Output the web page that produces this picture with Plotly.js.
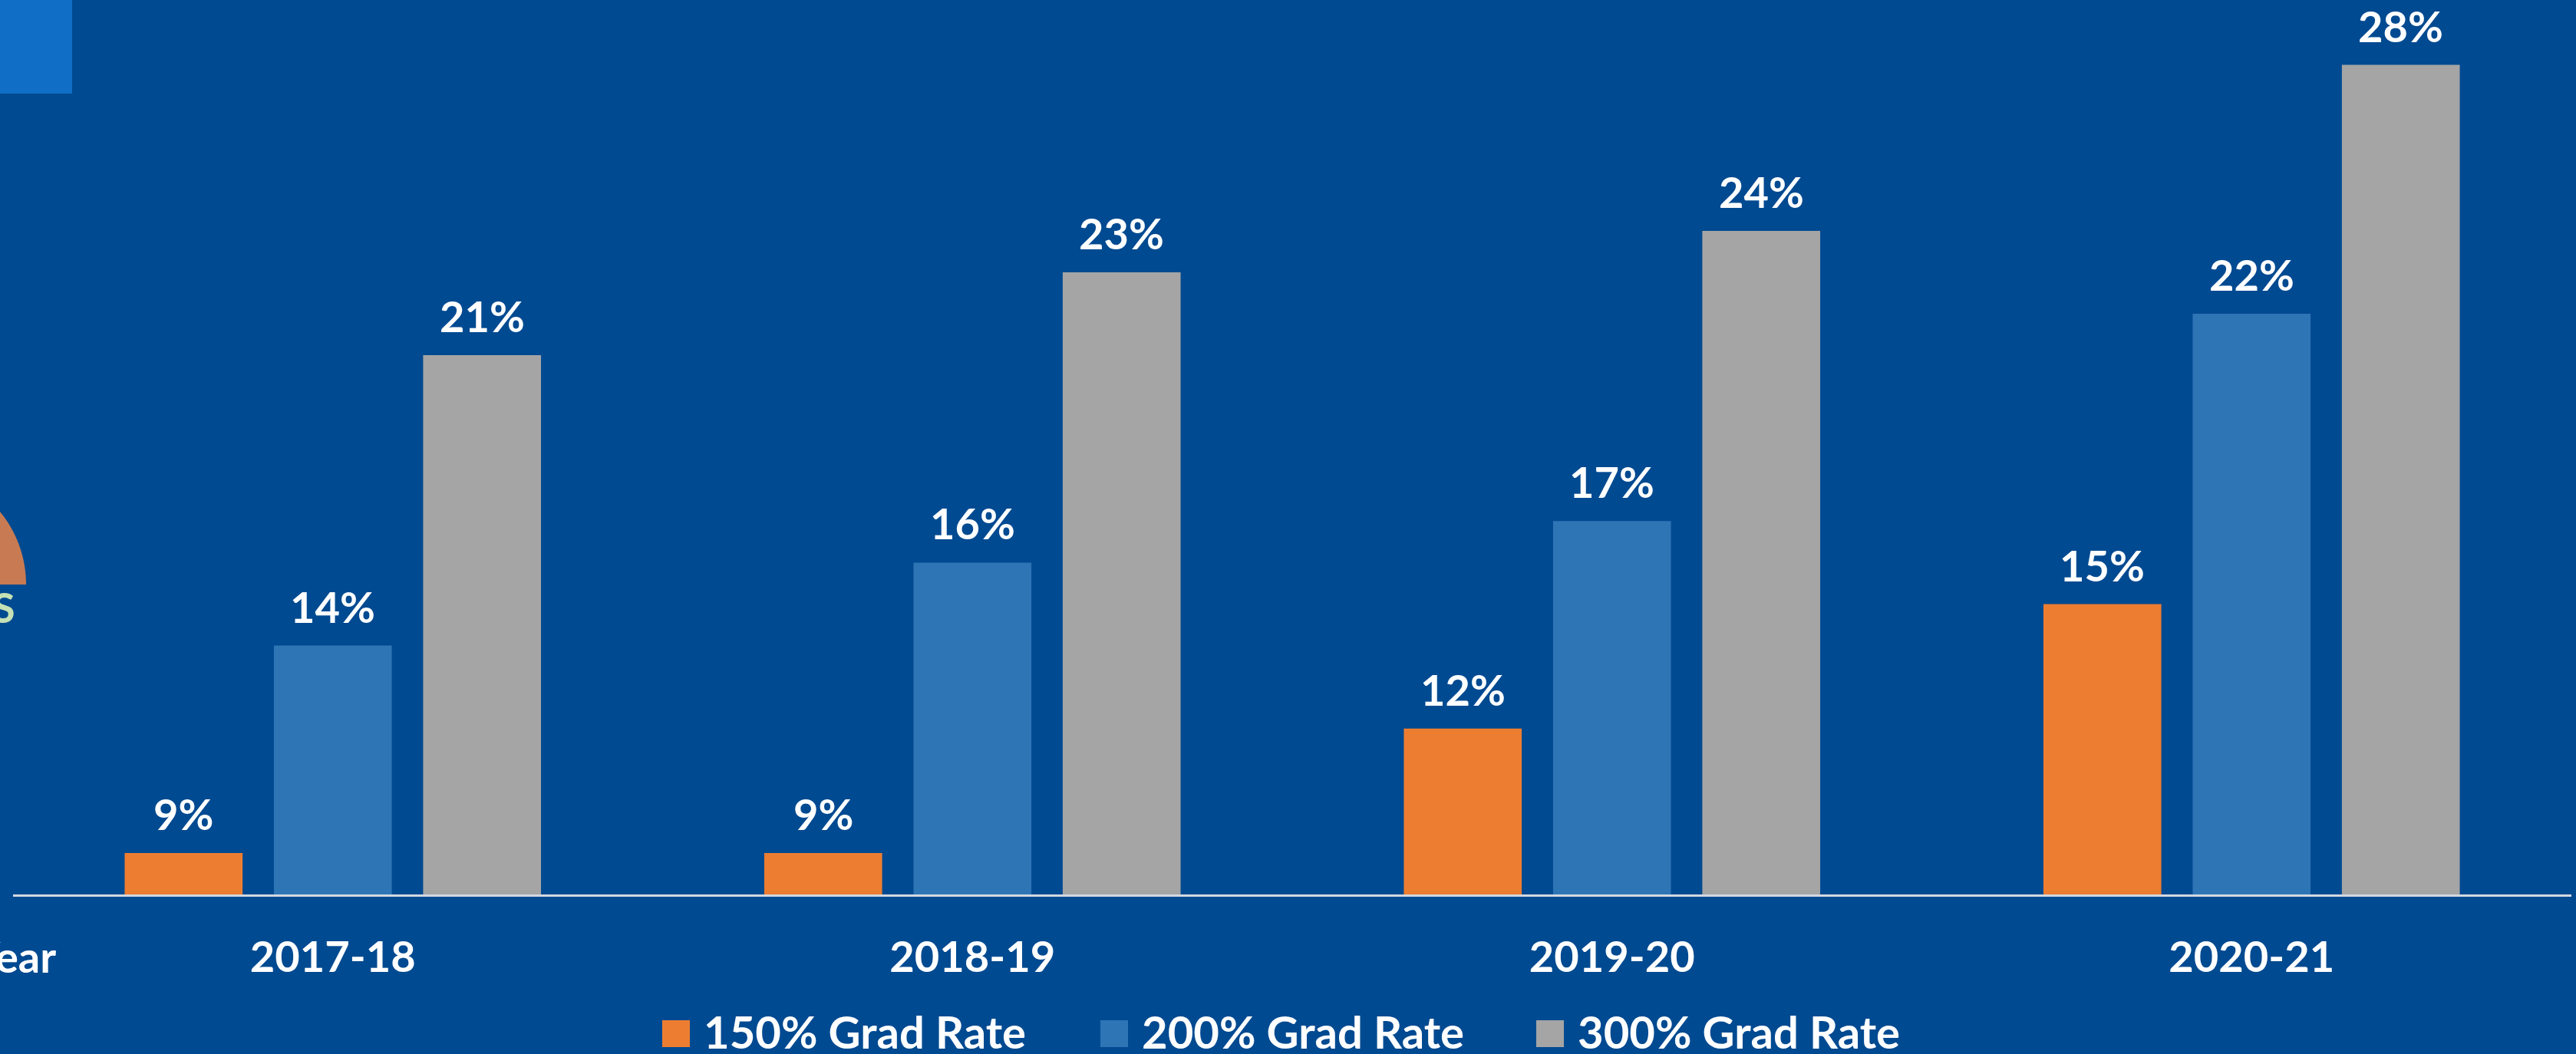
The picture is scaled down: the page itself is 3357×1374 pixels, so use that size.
<!DOCTYPE html>
<html>
<head>
<meta charset="utf-8">
<script src="https://cdn.plot.ly/plotly-3.0.1.min.js"></script>
<style>
  html, body { margin: 0; padding: 0; background: #004A91; overflow: hidden; }
  #chart { width: 3357px; height: 1374px; }
</style>
</head>
<body>
<div id="chart"></div>
<script>
// ---- data ----
const years = ['2017-18', '2018-19', '2019-20', '2020-21'];
const seriesNames = ['150% Grad Rate', '200% Grad Rate', '300% Grad Rate'];
const rate150 = [9, 9, 12, 15];
const rate200 = [14, 16, 17, 22];
const rate300 = [21, 23, 24, 28];
const axisTitle = 'Year';
const sideLabel = 'S';

// ---- style ----
const W = 3357, H = 1374;
const M = { l: 17, r: 6, t: 0, b: 208 };
const PW = W - M.l - M.r, PH = H - M.t - M.b;
const yMin = 8, pxPerUnit = 54.07;
const yMax = yMin + PH / pxPerUnit;
const colors = ['#ED7D31', '#2E75B6', '#A5A5A5'];
const bg = '#004A91';
const fam = 'Lato, "Open Sans", "DejaVu Sans", sans-serif';
const whiteFont = { family: fam, size: 56, color: '#FFFFFF', weight: 700 };
const bargap = 0.30;
const slotPx = PW / years.length * (1 - bargap) / 3;

const px2x = p => (p - M.l) / PW;
const py2y = p => (M.t + PH - p) / PH;

const seriesVals = [rate150, rate200, rate300];
const data = seriesVals.map((vals, i) => ({
  type: 'bar',
  name: seriesNames[i],
  x: years,
  y: vals,
  marker: { color: colors[i], line: { width: 0 } },
  hoverinfo: 'skip',
  showlegend: false
}));

const annotations = [];
seriesVals.forEach((vals, i) => {
  vals.forEach((v, j) => {
    annotations.push({
      x: years[j], y: v, xref: 'x', yref: 'y',
      text: v + '%', showarrow: false,
      xanchor: 'center', yanchor: 'bottom',
      xshift: (i - 1) * slotPx, yshift: 16,
      font: whiteFont
    });
  });
});

// axis title (cut off at left edge in the original)
annotations.push({
  xref: 'paper', yref: 'paper', x: px2x(75), y: py2y(1246),
  xanchor: 'right', yanchor: 'middle', showarrow: false,
  text: axisTitle, font: whiteFont
});
// light green partial label at left
annotations.push({
  xref: 'paper', yref: 'paper', x: px2x(22), y: py2y(791),
  xanchor: 'right', yanchor: 'middle', showarrow: false,
  text: sideLabel, font: { family: fam, size: 54, color: '#C5E0B4', weight: 700 }
});

// legend (manual, large squares)
const legMarkX = [863, 1434, 2002];
const shapes = [];
seriesNames.forEach((nm, i) => {
  shapes.push({
    type: 'rect', xref: 'paper', yref: 'paper', layer: 'above',
    x0: px2x(legMarkX[i]), x1: px2x(legMarkX[i] + 36),
    y0: py2y(1365), y1: py2y(1330),
    fillcolor: colors[i], line: { width: 0 }
  });
  annotations.push({
    xref: 'paper', yref: 'paper', x: px2x(legMarkX[i] + 52), y: py2y(1344),
    xanchor: 'left', yanchor: 'middle', showarrow: false,
    text: nm, font: { family: fam, size: 58, color: '#FFFFFF', weight: 700 }
  });
});

// decorative top-left block
shapes.push({
  type: 'rect', xref: 'paper', yref: 'paper', layer: 'below',
  x0: px2x(-10), x1: px2x(94), y0: py2y(122), y1: py2y(-10),
  fillcolor: '#106EC6', line: { width: 0 }
});
// decorative half circle at left edge
(function () {
  const cx = -116, cy = 762, r = 150, k = 0.5523;
  const P = (x, y) => px2x(x) + ',' + py2y(y);
  const path = 'M' + P(cx - r, cy) +
    ' C' + P(cx - r, cy - k * r) + ' ' + P(cx - k * r, cy - r) + ' ' + P(cx, cy - r) +
    ' C' + P(cx + k * r, cy - r) + ' ' + P(cx + r, cy - k * r) + ' ' + P(cx + r, cy) + ' Z';
  shapes.push({
    type: 'path', xref: 'paper', yref: 'paper', layer: 'below',
    path: path, fillcolor: '#C87B52', line: { width: 0 }
  });
})();

const layout = {
  width: W, height: H,
  margin: M,
  paper_bgcolor: bg, plot_bgcolor: bg,
  barmode: 'group', bargap: bargap, bargroupgap: 0.21,
  showlegend: false,
  xaxis: {
    type: 'category', range: [-0.5, years.length - 0.5],
    showgrid: false, zeroline: false,
    showline: true, linecolor: '#D3D8E0', linewidth: 2.5,
    ticks: '', ticklabelstandoff: 31,
    tickfont: whiteFont, fixedrange: true
  },
  yaxis: {
    range: [yMin, yMax], showgrid: false, zeroline: false,
    showline: false, showticklabels: false, ticks: '', fixedrange: true
  },
  annotations: annotations,
  shapes: shapes
};

Plotly.newPlot('chart', data, layout, { staticPlot: true, displayModeBar: false });
</script>
</body>
</html>
